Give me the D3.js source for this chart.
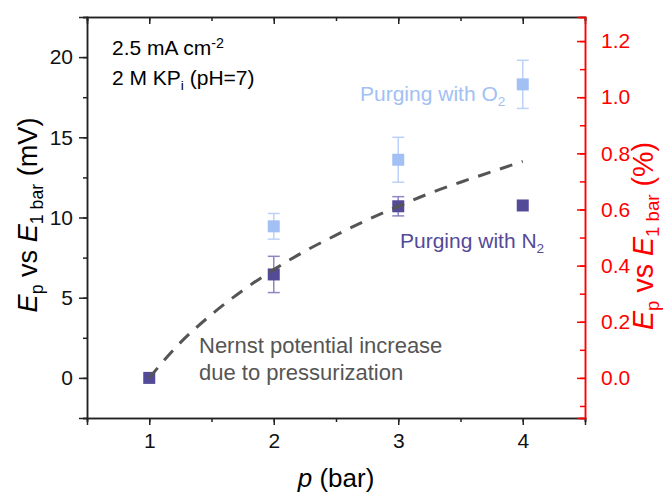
<!DOCTYPE html>
<html>
<head>
<meta charset="utf-8">
<script src="https://cdn.jsdelivr.net/npm/d3@7"></script>
<style>
body { margin: 0; background: #fff; }
text { font-family: Arial, "Liberation Sans", sans-serif; }
</style>
</head>
<body>
<svg width="663" height="494"></svg>
<script>
var svg = d3.select('svg')

// data
var pressures = [1, 2, 3, 4]
var n2Values = [0, 6.45, 10.7, 10.75]
var n2Errors = [0, 1.13, 0.6, 0]
var o2Pressures = [2, 3, 4]
var o2Values = [9.45, 13.6, 18.3]
var o2Errors = [0.8, 1.4, 1.5]
var nernstP = [1, 1.25, 1.5, 1.75, 2, 2.25, 2.5, 2.75, 3, 3.25, 3.5, 3.75, 4]
var nernstE = [0, 2.2, 3.95, 5.45, 6.75, 7.9, 8.9, 9.85, 10.7, 11.5, 12.2, 12.85, 13.5]
var xTicks = [1, 2, 3, 4]
var yTicks = [0, 5, 10, 15, 20]
var rTicks = [0, 0.2, 0.4, 0.6, 0.8, 1.0, 1.2]

var plotLeft = 87, plotRight = 585, plotTop = 17, plotBottom = 418
var n2Color = "#534A98", n2ErrColor = "#8D87C2"
var o2Color = "#A2C0F4", o2ErrColor = "#BCD2F8"
var tickFont = 21

var x = d3.scaleLinear().domain([0.5, 4.5]).range([plotLeft, plotRight])
var y = d3.scaleLinear().domain([-2.5, 22.5]).range([plotBottom, plotTop])
var yr = d3.scaleLinear().domain([-2.5 / 17.5, 22.5 / 17.5]).range([plotBottom, plotTop])

//Axes
var xMinor = d3.range(0.5, 4.51, 0.5)
svg.append('g').attr('transform', 'translate(0,' + plotBottom + ')')
	.call(d3.axisBottom(x).tickValues(xMinor).tickSize(4).tickFormat(''))
svg.append('g').attr('transform', 'translate(0,' + plotBottom + ')')
	.call(d3.axisBottom(x).tickValues(xTicks).tickSize(7).tickPadding(8).tickFormat(d3.format('d')))
	.attr('class', 'ax')
svg.append('g').attr('transform', 'translate(0,' + plotTop + ')')
	.call(d3.axisTop(x).tickValues(xMinor).tickSize(-4).tickFormat(''))
svg.append('g').attr('transform', 'translate(0,' + plotTop + ')')
	.call(d3.axisTop(x).tickValues(xTicks).tickSize(-7).tickFormat(''))

svg.append('g').attr('transform', 'translate(' + plotLeft + ',0)')
	.call(d3.axisLeft(y).tickValues(d3.range(-2.5, 22.51, 2.5)).tickSize(4).tickFormat(''))
svg.append('g').attr('transform', 'translate(' + plotLeft + ',0)')
	.call(d3.axisLeft(y).tickValues(yTicks).tickSize(8).tickPadding(6))
	.attr('class', 'ax')

var rAxis = svg.append('g').attr('transform', 'translate(' + plotRight + ',0)')
rAxis.call(d3.axisRight(yr).tickValues(d3.range(-0.1, 1.29, 0.1)).tickSize(-5).tickFormat(''))
rAxis.append('g').call(d3.axisRight(yr).tickValues(rTicks).tickSize(-8).tickPadding(16).tickFormat(d3.format('.1f')))
	.attr('class', 'ax')

svg.selectAll('path.domain').attr('stroke-width', 1.5).attr('stroke', '#222')
svg.selectAll('g.tick line').attr('stroke-width', 1.5).attr('stroke', '#222')
rAxis.selectAll('path, line').attr('stroke', '#f00')
svg.selectAll('g').attr('font-family', null).attr('font-size', null)
svg.selectAll('.ax text').attr('font-size', tickFont).attr('fill', '#111')
rAxis.selectAll('text').attr('fill', '#f00')

//Error bars
function errorBars(px, vals, errs, color) {
	var g = svg.append('g').attr('stroke', color).attr('stroke-width', 1.5)
	px.forEach(function(p, i) {
		if (!errs[i]) return
		var cx = x(p), y1 = y(vals[i] + errs[i]), y2 = y(vals[i] - errs[i])
		g.append('line').attr('x1', cx).attr('x2', cx).attr('y1', y1).attr('y2', y2)
		g.append('line').attr('x1', cx - 6).attr('x2', cx + 6).attr('y1', y1).attr('y2', y1)
		g.append('line').attr('x1', cx - 6).attr('x2', cx + 6).attr('y1', y2).attr('y2', y2)
	})
}
errorBars(o2Pressures, o2Values, o2Errors, o2ErrColor)
errorBars(pressures, n2Values, n2Errors, n2ErrColor)

var sq = 12
svg.append('g').selectAll('rect').data(o2Pressures).enter().append('rect')
	.attr('x', function(d) { return x(d) - sq / 2 })
	.attr('y', function(d, i) { return y(o2Values[i]) - sq / 2 })
	.attr('width', sq).attr('height', sq).attr('fill', o2Color)
svg.append('g').selectAll('rect').data(pressures).enter().append('rect')
	.attr('x', function(d) { return x(d) - sq / 2 })
	.attr('y', function(d, i) { return y(n2Values[i]) - sq / 2 })
	.attr('width', sq).attr('height', sq).attr('fill', n2Color)

//Nernst curve
var line = d3.line()
	.x(function(d) { return x(d) })
	.y(function(d, i) { return y(nernstE[i]) })
	.curve(d3.curveMonotoneX)
svg.append('path').datum(nernstP)
	.attr('d', line)
	.attr('fill', 'none')
	.attr('stroke', '#555')
	.attr('stroke-width', 3)
	.attr('stroke-dasharray', '13,10')

//Labels
function label(tx, ty, parts, color, size, anchor) {
	var t = svg.append('text').attr('x', tx).attr('y', ty).attr('fill', color)
		.attr('font-size', size).attr('text-anchor', anchor || 'start')
	parts.forEach(function(p) {
		var s = t.append('tspan').text(p[0])
		if (p[1] == 'sub') s.attr('font-size', size * 0.65).attr('dy', size * 0.22)
		if (p[1] == 'sup') s.attr('font-size', size * 0.68).attr('dy', -size * 0.35)
		if (p[1] == 'back') s.attr('dy', -size * 0.22)
		if (p[1] == 'it') s.attr('font-style', 'italic')
	})
	return t
}
label(112, 55, [['2.5 mA cm'], ['-2', 'sup']], '#000', 21)
label(112, 85, [['2 M KP'], ['i', 'sub'], [' (pH=7)', 'back']], '#000', 21)
label(360, 101, [['Purging with O'], ['2', 'sub']], o2Color, 21)
label(400, 248, [['Purging with N'], ['2', 'sub']], n2Color, 21)
label(199, 353, [['Nernst potential increase']], '#555', 22)
label(199, 380, [['due to pressurization']], '#555', 22)

// axis titles
label(336, 487, [['p', 'it'], [' (bar)']], '#000', 26, 'middle')

// rotated titles, sized so they span the same length as in the picture
function vLabel(cx, cy, unit, color, length) {
	var parts = [['E', 'it'], ['p', 'sub'], [' vs ', 'back'], ['E', 'it'], ['1 bar', 'sub'], [unit, 'back']]
	var t = label(0, 0, parts, color, 26, 'middle')
	var s = 26 * length / t.node().getComputedTextLength()
	t.remove()
	return label(0, 0, parts, color, s, 'middle')
		.attr('transform', 'translate(' + cx + ',' + cy + ') rotate(-90)')
}
vLabel(37, 215, ' (mV)', '#000', 195)
vLabel(653, 236, ' (%)', '#f00', 188)
</script>
</body>
</html>
